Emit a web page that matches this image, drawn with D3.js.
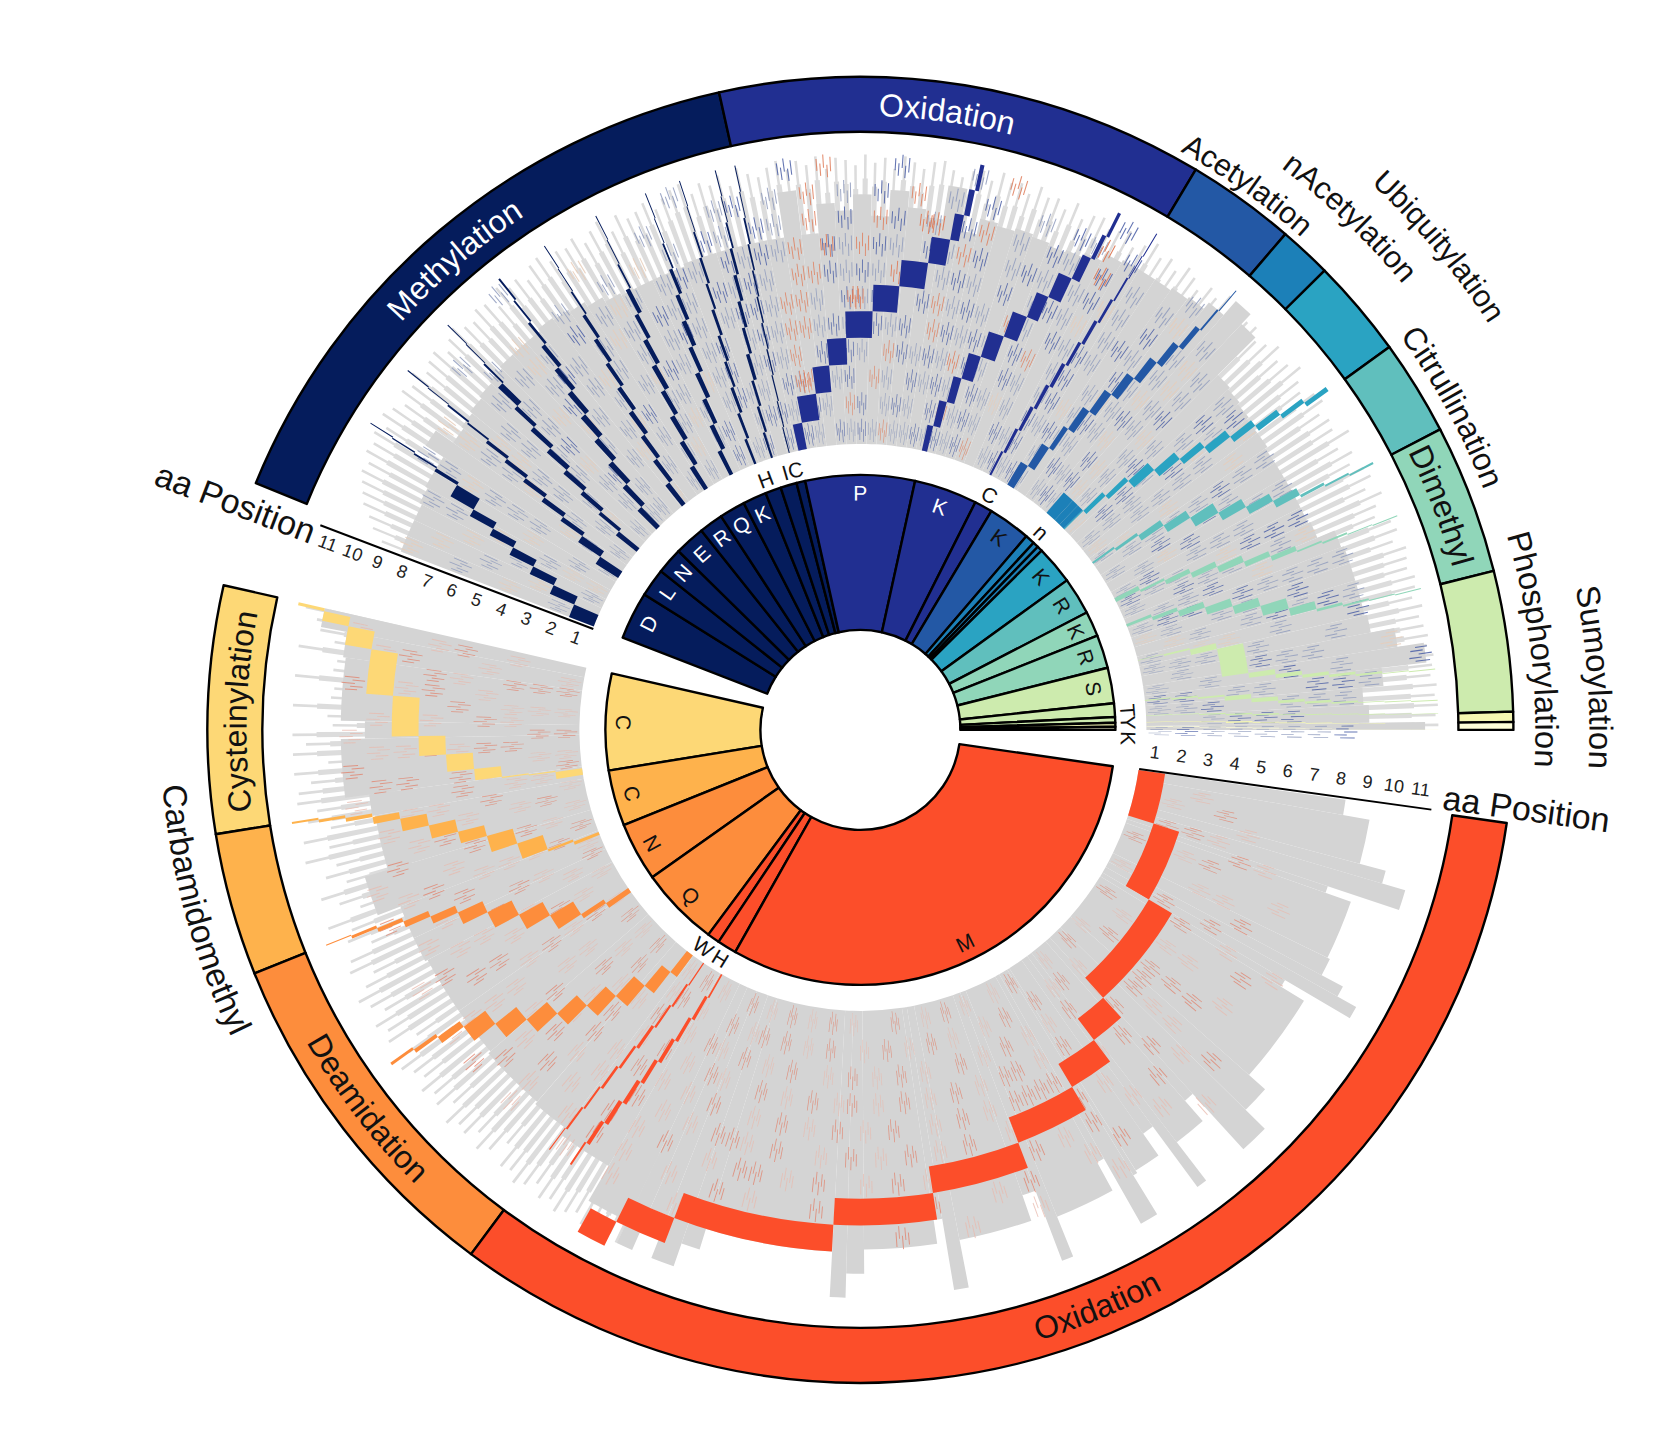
<!DOCTYPE html>
<html><head><meta charset="utf-8"><style>html,body{margin:0;background:#fff}svg{display:block}text{font-family:"Liberation Sans",Arial,sans-serif}</style>
<script src="https://cdn.jsdelivr.net/npm/d3@7/dist/d3.min.js"></script></head><body><svg id="c" width="1678" height="1437"></svg>
<script>
// ---- data ----
const modNames=["Methylation","Oxidation","Acetylation","nAcetylation","Ubiquitylation","Citrullination","Dimethyl","Phosphorylation","Sumoylation","","Cysteinylation","Carbamidomethyl","Deamidation","Oxidation"];
const modColors=["#051c5c","#212f91","#2358a5","#1c80b8","#2aa3c2","#60bfbd","#90d6b9","#cdebae","#f5f7b2","#ffffd9","#fdd876","#feb24c","#fd8d3c","#fc4e2a"];
const upperLetters=["D","L","N","E","R","Q","K","H","I","C","P","K","C","K","n","","","K","R","K","R","S","T","Y","K",""];
const upperSpans=[10.9,6.4,6,6.9,5.5,5.9,5.4,3.6,3.7,2,24.9,14.4,4.1,9.7,2.2,1.3,1.2,8.8,8.5,5.7,7.6,8.1,3.1,1.3,.9,.7];
const upperMods=[0,0,0,0,0,0,0,0,0,0,1,1,1,2,3,3,3,4,5,6,6,7,7,7,8,9];
const lowerLetters=["C","C","N","Q","W","H","M"];
const lowerSpans=[22,12.7,13.4,18.1,2.8,4.4,111.2];
const lowerMods=[10,11,12,12,13,13,13];
const upperOutside=[["H",110.7],["I",106.3],["C",104],["C",61.2],["n",47.6],["T",4.2],["Y",1.6],["K",-1.8]];
const lowerOutside=[["W",234.1],["H",238.5]];
const positions=[1,2,3,4,5,6,7,8,9,10,11];
const upperSteps=[
[2.5,1.6,1.3,1.2,1,1,1.6,.4,.2,.15,.1],[1.5,1.2,.7,.7,.6,.5,.4,.2,.2,.1,.1],[.9,.6,.7,.7,.7,.6,.5,.7,.2,.1,.1],
[1,.9,.9,.8,.8,.7,.6,.5,.3,.2,.2],[.9,.8,.7,.7,.6,.5,.5,.4,.2,.1,.1],[.9,.8,.8,.7,.7,.6,.5,.5,.2,.1,.1],
[.8,.8,.7,.7,.6,.6,.5,.4,.2,.1,.1],[.5,.5,.5,.4,.4,.4,.3,.3,.2,.1,.1],[.4,.4,.4,.5,.4,.4,.4,.3,.2,.1,.1],
[.2,.2,.2,.2,.2,.2,.2,.2,.2,.1,.1],[1.7,3.2,2.6,2.8,3.7,3.3,3.2,2.1,1,.6,.4],[1,1.2,1.2,1.7,2,1.8,1.4,1.5,.9,.4,.3],
[.4,.5,.5,.5,.5,.4,.4,.3,.2,.1,.1],[1.5,1.4,.8,1.1,1.1,1.1,1,.8,.6,.2,.1],[1,0,0,0,0,0,0,0,0,0,0],[1,0,0,0,0,0,0,0,0,0,0],[1,0,0,0,0,0,0,0,0,0,0],
[.2,.8,.8,1.4,1.2,.9,1,.8,.7,.5,.5],[.4,.5,1,1.2,1.5,1.2,1,.9,.3,.2,.2],[.8,.4,.7,.8,.9,.7,.6,.2,.2,.1,.1],
[.5,.6,.9,1.1,1.1,1.3,.9,.3,.2,.1,.1],[.1,.3,.9,4.3,.7,.5,.4,.3,.2,.1,.1],[.2,.3,.3,.7,.6,.4,.3,.2,.1,.1,.1],
[.1,.1,.2,.2,.2,.1,.1,.1,.1,.05,.05],[.1,.1,.1,.2,.1,.1,.1,.05,.05,0,0],[.1,.1,.1,.1,.1,.05,.05,.03,.03,.02,.02]];
const lowerSteps=[
[1.3,.2,.2,1.6,2.3,2.5,4.8,5,2,1,.3],[.6,.4,2.5,2.4,1.6,1.7,1.5,.8,.4,.3,.2],[1,.8,2.5,2.3,2.3,1.6,.9,.7,.4,.3,.1],
[1.5,2,2.4,2.2,2.1,2.1,2.1,2,.8,.4,.3],[.2,.3,.3,.4,.3,.3,.2,.2,.1,0,0],[.3,.5,.5,.5,.5,.5,.5,.4,.2,0,0],
[9.5,12.7,17.3,5.2,6.3,9.7,12,12,17.7,5.5,3]];
// grey silhouette, upper half: reach in positions per 2-degree bin from 158.8 down
const upperReach=[7.8,7.8,7.8,7.9,8,8,8.8,8,8.1,8.2,8.3,8.4,8.5,8.5,8.5,8.6,8.5,8.4,8.2,8,7.9,7.9,7.9,7.9,8,8,8,8,8,8,
9.7,8,9.1,8.8,9.4,8.6,9.6,9,8.7,10,8.4,9,8.9,9,8.9,8.8,8.9,9.1,9.4,9.5,9.5,9.5,9.6,9.7,10,10.7,10.2,8.2,8.1,8,7.9,7.9,7.8,7.8,7.8,7.8,7.8,7.9,8.6,8.7,8.7,8.7,8.7,8.8,9.7,10.7,9,8.2,8.4,10.5];
// thin rays beyond the silhouette, upper half: one reach per degree from 158.5 down
const upperRays=[8.6,9.1,9.4,9.8,10,10.2,10.4,10.3,10.6,10.5,10.7,10.4,10.8,10.6,10.3,10.7,10.5,10.8,10.4,10.6,
10.7,10.3,10.6,10.8,10.5,10.4,10.7,10.6,10.2,10.8,10.5,10.6,10.3,10.7,10.8,10.4,10.6,10.5,10.7,10.3,
10.6,10.8,10.2,10.7,10.4,10.5,10.7,10.3,10.6,10.8,10.9,10.4,10.7,10.5,10.8,10.3,10.9,10.6,10.4,10.7,
10.9,10.5,10.8,10.6,10.9,10.4,10.8,10.7,10.5,10.9,10.6,10.8,10.4,10.9,10.7,10.5,10.8,10.9,10.6,10.4,
10.7,10.8,10.5,10.9,10.6,10.7,10.4,10.8,10.5,10.6,10.3,10.7,10.2,10.5,10.6,10.3,10.4,10.6,10.1,10.4,
10.7,10.3,10.5,10.2,10.6,10.4,10.1,10.5,10.3,10.7,10.2,10.6,10.4,10.5,10.1,10.3,10.6,10.2,10.4,10.7,
10.3,10.1,10.5,10.6,10.2,10.4,10.3,10.8,10.1,10.5,10.2,10.6,10.7,10.3,10.8,10.4,10.2,10.7,10.8,10.5,
10.9,10.8,10.7,10.9,10.8,10.6,10.9,10.7,10.8,10.9,10.8,11,10.9,10.8,11,10.9,11,10.9,11];
// grey silhouette, lower half: edges (degrees, descending) and reach between them
const lowerEdges=[351.8,350,345,343.6,341.5,340.7,334,332,330.8,329.5,328.6,318.4,315.4,312.4,311.2,307.5,306.4,305,302,301.5,299.6,298.7,292,290.8,289.2,281,279.5,278.5,270.4,268.5,266.9,252.8,250.8,248.4,246.3,244.6,240,233.5,229,221,215,208,205,201,196.5,190,187.5,181,179,172,169.2,167.2];
const lowerReach=[7.8,8.8,9.8,10.7,7.9,8.9,9,9.9,10.7,7.9,8.9,9.7,10.7,7.9,8.9,10.7,7.9,8.9,9,10.7,7.9,9.1,10.7,7.9,8.9,10.7,8,8.9,9.8,10.7,9,9.8,10.7,9,10.7,9.8,8.3,8,7.9,7.8,7.8,7.9,7.9,8.8,7.9,8,8.9,8,8.9,9,10];
// thin rays, lower half: one reach per degree from 244.5 down
const lowerRays=[10.7,10.5,10.8,10.6,10.7,10.4,10.6,10.8,10.5,10.7,10.3,10.6,10.8,10.5,10.6,9.8,10.4,10.7,10.2,10.6,
10.5,10.8,10.1,10.6,10.4,10.7,10.3,10.5,10.8,10.2,9.6,10.6,10.4,10.7,10.1,10.5,10.8,10.3,9.8,10.6,
10.4,9.4,10.2,9.9,10.7,9.3,10,10.6,9.5,10.2,9.7,10.8,9.8,10.7,9.6,10.4,10,10.7,10.6,10.1,10.7,9.4,10.7,10.2,10.7,9.2,9.4,10.7,9.3,9.2,10.7,9.3,9.2,10.7,9.4,10,10.2,10.7];
// radial dashes in the grey, one string per position, one char per 2-degree bin from the start of each half
const upperTexture=[
"..gp.g.g..g.gg.p.g.g..b.gb.bgbg.bgbgoggbgbgbo.gbgbg.gbgbgp.gpg.g.gbg.gp.gg.gbg.g",
"g..pg.g.gp.g.g..g.gp.gb..gbbg.bg.ob.gbg.bogbg.bgb.g.bgbpg.bg.pg.gbg.gbgp.gg.bg.b",
".p.g..pg.g.gb.gp.g.gpg.gbgg.bgobgb.og.bgbg.bgpg.bgbgg.bpg.bgg.gbp.gbgb.gpg.g.bgg",
"p.g.pg..g.gp.g.gpb.gg.pgb.gbgo.bgbg.obgbg.bg.bg.gbpgbgp.gbg.gpg.bg.gb.g.pgb.g.bg",
".g.p.g.pg.gb.pg.g.gpbg.gb.gbgoogbg.bgb.obgbg.bo.gb.gpgbgpg.bg.gb.gpg.bgg.gb.g.bg",
"g.p..g.gpg.gpb.gpg.g.gbg.gbbgoog.bgbg.bogbg.og.bgbg.bgpgb.gpg.bg.gb.pg.bg.gb.gbg",
".p.g.p.gpg.g.gbg.gpg.bgg.bgbg.oobgbg.b.gbg.b.gbgp.gbg.gpg.bg.pg.g.bg.gbg..g.bg.g",
"p..g.g.p..g.gpg.b.gpg.gbg.bgbgo.bgobg.bgob.gbg.gbpg.b.gpg.gbp.g.g.bp.g.b.g.gbg.b",
".....g.p...g.p..g..g.p.g.bg.bg.o.b.ob.g.bo.g.bg.b.g.gp.g.g.....g.p...g.gb...gbp.",
"..........g.......p...g...gb.g.o.g.b.o.g.b..g.bg.b...g......p.....g......bp..g...",
"..............g.........g.....b.o...b...g.o.....b.......g..........p.......b...g."];
const lowerTexture=[
"...l..r..l..r...l.r..l...r.l..l.r.l..r...l.r.l.r.l.r..l.r.l...r.l.r.l..l.rl.r.l.l.rl.r.l.rl.",
"..l.r...l.r..l.r...l.rl.r..r.l..l.r.l.r.l..r.l.r.rl.r..l.rl.l.r.l...r.l.l..r.l.r.l.l.r.l.r..",
".l..r.l...r.l..rrr.l..r.l.l.r.l.r..l.r.l.r.l..r.l.r.lr.l..r.l.l.r.l.l.r..l.l.r.l.l..r.ll.r.l",
"..r.l.r.l..r.l.rrr.r.l..r.l.rr.l.r.l.r.l.rl.r.l.r..lr.l.r.l..r.l..l.r..l.r.l.l..r.l.r.r.l.l.",
"...l.r..l.r..l.r.l..r.l.r.rrrr.l.r.l..r.l.r.l.r.l..r.l.l.r.l.r.l.r..l.l.r..l.r.l.rr.l..r.l.r",
".....l...r.l...r.l.r...l.r.rr.l..r.l.r.l.r.l..r.lrr.l.l.r..l.l.r.l.l.r.l..r.l.r.l...r.l.rr.l",
".......l....r.l...l.r.l..r.l.r..l.r.l.r.l..r.l.rr.l..r.l.r..l.r.l..l.r.l.l.r..l.l.r.l.r.l.r.",
"...........l.....r...l..r.l...r.l...r.l..l.r...l.r..l..l.r.l..l.r..l..r.l..l.r.l..r.l.l.r.l.",
"...................l.....l....l...l...r.....l....r.l...l..l...l..r.l..l...r.l....l.r.l..r..l"];
// strongly orange patches in the oxidation fan: degree, position index
const upperAccents=[[99.7,2],[99,2],[94,7],[91,5],[90.4,5],[85.5,6],[82.6,8],[81.4,8],[76,3],[63,9],[62,8]];
const dashOffsets=[-.75,-.4,-.05,.3,.65];
const dashRanges=[[.3,.85],[.08,.55],[.45,.95],[.15,.62],[.35,.8]];
const dashFill={g:"#8f9bbd",b:"#4a5ea6",o:"#df7e5c",p:"#e8cdb9",r:"#e27f68",l:"#e8b9ad"};
// ---- layout ----
const cx=860.4,cy=729.9;
const svg=d3.select("#c"),g=svg.append("g").attr("transform",`translate(${cx},${cy})`);
const rad=d=>(90-d)*Math.PI/180;
const rUp=d3.scaleLinear([0,11],[286,578]),rLo=d3.scaleLinear([0,11],[281,576]);
const angUp=d3.scaleLinear([0,d3.sum(upperSpans)],[158.8,0]),angLo=d3.scaleLinear([0,d3.sum(lowerSpans)],[167.2,351.8]);
const pt=(r,d)=>[r*Math.cos(d*Math.PI/180),-r*Math.sin(d*Math.PI/180)];
const wedge=(r0,r1,a,b)=>d3.arc()({innerRadius:r0,outerRadius:r1,startAngle:rad(a),endAngle:rad(b)});
const grey="#d4d4d4";
function addW(p,r0,r1,a,b,f,o){const s=p.append("path").attr("d",wedge(r0,r1,a,b)).attr("fill",f);if(o!=null)s.attr("opacity",o);return s;}
const heat=g.append("g");
// rays
upperRays.forEach((v,i)=>{const d=158.5-i;addW(heat,rUp(7),rUp(v),d+.13,d-.13,"#dcdcdc");addW(heat,rUp(7),rUp(v-.9),d+.27,d-.27,"#dcdcdc");});
lowerRays.forEach((v,i)=>{const d=244.5-i;addW(heat,rLo(7),rLo(v),d+.14,d-.14,"#dcdcdc");addW(heat,rLo(7),rLo(v-.9),d+.28,d-.28,"#dcdcdc");});
// silhouette
upperReach.forEach((v,i)=>{const a=158.8-i*2,b=Math.max(a-2,0);addW(heat,rUp(0),rUp(v),a,b,grey);});
lowerReach.forEach((v,i)=>addW(heat,rLo(0),rLo(v),lowerEdges[i],lowerEdges[i+1],grey));
// dashes
function dashes(mid,p,rs,ch,op){dashOffsets.forEach((o,k)=>{const f=dashRanges[k];addW(heat,rs(p+f[0]),rs(p+f[1]),mid+o+.055,mid+o-.055,dashFill[ch],op);});}
function texture(rows,start,rs,op,keep){rows.forEach((row,p)=>{[...row].forEach((ch,i)=>{if(ch==="."||!keep(p,i))return;dashes(start-1-i*2,p,rs,ch,op);});});}
texture(upperTexture,158.8,rUp,.85,(p,i)=>i<=54||p+.6<=upperReach[i]);
texture(lowerTexture,351.8,rLo,.75,()=>true);
upperAccents.forEach(([d,p])=>dashes(d,p,rUp,"o",1));
// staircases and sectors
function half(spans,letters,mods,steps,ang,rs,labelRot){
 let cum=0;spans.forEach((v,i)=>{const a=ang(cum),b=ang(cum+v);cum+=v;const hi=Math.max(a,b),lo=Math.min(a,b),col=modColors[mods[i]];
  const tot=d3.sum(steps[i]);let c=hi;steps[i].forEach((w,k)=>{if(!w)return;const wd=w/tot*(hi-lo);addW(heat,rs(k),rs(k+1),c,c-wd,col);c-=wd;});
  g.append("path").attr("d",wedge(100,255,a,b)).attr("fill",col).attr("stroke","#000").attr("stroke-width",2.4).attr("stroke-linejoin","round");
  if(letters[i]&&(hi-lo)>4.5&&!(mods[i]===1&&letters[i]==="C")){const mid=(a+b)/2,[x,y]=pt(237,mid);
   const dark=mods[i]<=1;g.append("text").attr("transform",`translate(${x},${y}) rotate(${labelRot(mid)})`).attr("text-anchor","middle").attr("dy","0.36em").attr("font-size",21).attr("fill",dark?"#fff":"#111").text(letters[i]);}
 });
}
const rotUp=d=>90-d,rotLo=d=>270-d;
half(upperSpans,upperLetters,upperMods,upperSteps,angUp,rUp,rotUp);
half(lowerSpans,lowerLetters,lowerMods,lowerSteps,angLo,rLo,rotLo);
const outTxt=(arr,rot)=>arr.forEach(([t,d])=>{const [x,y]=pt(268,d);g.append("text").attr("transform",`translate(${x},${y}) rotate(${rot(d)})`).attr("text-anchor","middle").attr("dy","0.36em").attr("font-size",21).attr("fill","#111").text(t);});
outTxt(upperOutside,rotUp);outTxt(lowerOutside,rotLo);
// outer ring
function ring(spans,mods,ang,startDeg){let cum=0,groups=[];spans.forEach((v,i)=>{const a=ang(cum),b=ang(cum+v);cum+=v;const l=groups[groups.length-1];if(l&&l.m===mods[i])l.b=b;else groups.push({m:mods[i],a,b});});
 groups[0].a=startDeg;
 groups.forEach(o=>g.append("path").attr("d",wedge(598,653,o.a,o.b)).attr("fill",modColors[o.m]).attr("stroke","#000").attr("stroke-width",2.4).attr("stroke-linejoin","round"));}
ring(upperSpans,upperMods,angUp,157.8);ring(lowerSpans,lowerMods,angLo,167.2);
// ring and outside labels on arcs: name, centre degree, baseline radius, fill, clockwise, font size
const arcLabels=[["Methylation",130.8,614,"#fff",true,32],["Oxidation",82,614,"#fff",true,32],["Dimethyl",21.1,614,"#111",true,32],["Cysteinylation",178.3,614,"#111",true,32],
["Deamidation",217.5,636,"#111",false,32],["Oxidation",292.3,636,"#111",false,32],
["Acetylation",54.6,661,"#111",true,30.5],["nAcetylation",46.3,702,"#111",true,31],["Ubiquitylation",39.9,748,"#111",true,30.7],["Citrullination",28.6,668,"#111",true,32],["Phosphorylation",6.8,675,"#111",true,32.7],["Sumoylation",4.1,729,"#111",true,33],["Carbamidomethyl",195.3,700,"#111",false,33.5]];
const defs=svg.append("defs");
arcLabels.forEach(([t,d,r,f,cw,fs],i)=>{const id="lab"+i,h=50,a=cw?d+h:d-h,b=cw?d-h:d+h,[x0,y0]=pt(r,a),[x1,y1]=pt(r,b);
 defs.append("path").attr("id",id).attr("d",`M${x0},${y0}A${r},${r} 0 0 ${cw?1:0} ${x1},${y1}`);
 g.append("text").attr("font-size",fs).attr("fill",f).attr("text-anchor","middle").append("textPath").attr("href","#"+id).attr("startOffset","50%").text(t);});
// position axes
const axU=d3.scaleLinear([0,11],[-rUp(0),-rUp(11)]),axL=d3.scaleLinear([0,11],[rLo(0),rLo(11)]);
const tick=d=>d-.5;
const uA=g.append("g").attr("transform","rotate(20.8)").call(d3.axisBottom(axU).tickValues(positions.map(tick)).tickFormat(d=>d+.5).tickSize(0).tickPadding(8));
const lA=g.append("g").attr("transform","rotate(7.9)").call(d3.axisTop(axL).tickValues(positions.map(tick)).tickFormat(d=>d+.5).tickSize(0).tickPadding(12));
[uA,lA].forEach(s=>{s.selectAll("text").attr("font-size",18).attr("font-family","Liberation Sans").attr("fill","#222");s.select(".domain").attr("stroke","#000").attr("stroke-width",2);});
[[-625,-227,20.8],[666,79,7.9]].forEach(([x,y,r])=>g.append("text").attr("transform",`translate(${x},${y}) rotate(${r})`).attr("text-anchor","middle").attr("font-size",34).attr("dy","0.35em").attr("fill","#111").text("aa Position"));
</script></body></html>
